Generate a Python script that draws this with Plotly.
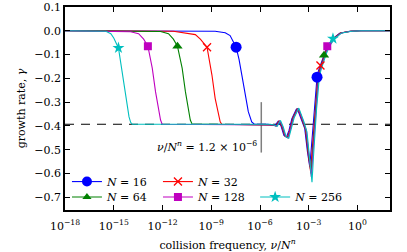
import numpy as np
import plotly.graph_objects as go

# ---------------- data ----------------
# x values are log10(nu / N^n); y values are growth rate gamma
N_VALUES = [16, 32, 64, 128, 256]

logx_16 = [-18, -8.76, -8.14, -7.84, -7.47, -7.29, -7.12, -6.92, -6.72, -6.51, -6.35,
           -5.51, -5.27, -5.08, -4.88, -4.71, -4.53, -4.37, -4.22, -4.04, -3.75, -3.61, -3.45, -3.25, -3.08, -2.94,
           -2.85, -2.76, -2.66, -2.57, -2.49, -2.39, -2.27, -2.08, -1.88, -1.53, -1.10, -0.49, 0.12, 2.0]
gamma_16 = [0.0, -0.002, -0.008, -0.020, -0.069, -0.120, -0.185, -0.256, -0.340, -0.383, -0.393,
            -0.393, -0.396, -0.399, -0.380, -0.400, -0.440, -0.446, -0.420, -0.370, -0.328, -0.345, -0.374, -0.410, -0.508, -0.571,
            -0.500, -0.420, -0.330, -0.260, -0.195, -0.165, -0.140, -0.103, -0.068, -0.034, -0.010, -0.002, 0.0, 0.0]

logx_32 = [-18, -11.33, -9.98, -9.67, -9.26, -9.12, -8.96, -8.76, -8.55, -8.45, -8.35,
           -5.46, -5.22, -5.03, -4.83, -4.66, -4.48, -4.32, -4.17, -3.99, -3.70, -3.56, -3.40, -3.20, -3.03, -2.89,
           -2.80, -2.71, -2.61, -2.52, -2.44, -2.34, -2.22, -2.03, -1.83, -1.48, -1.05, -0.44, 0.17, 2.0]
gamma_32 = [0.0, -0.002, -0.016, -0.035, -0.069, -0.120, -0.185, -0.284, -0.362, -0.383, -0.393,
            -0.393, -0.396, -0.400, -0.378, -0.402, -0.442, -0.448, -0.418, -0.368, -0.327, -0.346, -0.376, -0.415, -0.520, -0.590,
            -0.510, -0.420, -0.330, -0.260, -0.195, -0.165, -0.138, -0.100, -0.066, -0.032, -0.009, -0.002, 0.0, 0.0]

logx_64 = [-18, -14.0, -12.12, -11.63, -11.33, -11.08, -10.94, -10.79, -10.59, -10.39, -10.29, -10.18,
           -5.43, -5.19, -5.00, -4.80, -4.63, -4.45, -4.29, -4.14, -3.96, -3.67, -3.53, -3.37, -3.17, -3.00, -2.86,
           -2.77, -2.68, -2.58, -2.49, -2.41, -2.31, -2.19, -2.00, -1.80, -1.45, -1.02, -0.41, 0.20, 2.0]
gamma_64 = [0.0, -0.001, -0.003, -0.012, -0.035, -0.065, -0.110, -0.157, -0.256, -0.340, -0.375, -0.392,
            -0.393, -0.396, -0.400, -0.379, -0.402, -0.443, -0.449, -0.418, -0.368, -0.327, -0.346, -0.377, -0.417, -0.525, -0.600,
            -0.515, -0.420, -0.330, -0.260, -0.195, -0.165, -0.138, -0.100, -0.066, -0.032, -0.009, -0.002, 0.0, 0.0]

logx_128 = [-18, -16.41, -13.96, -13.47, -13.16, -12.90, -12.77, -12.63, -12.43, -12.23, -12.12, -12.02,
            -5.41, -5.17, -4.98, -4.78, -4.61, -4.43, -4.27, -4.12, -3.94, -3.65, -3.51, -3.35, -3.15, -2.98, -2.84,
            -2.75, -2.66, -2.56, -2.47, -2.39, -2.29, -2.17, -1.98, -1.78, -1.43, -1.00, -0.39, 0.22, 2.0]
gamma_128 = [0.0, -0.001, -0.004, -0.012, -0.035, -0.065, -0.110, -0.157, -0.256, -0.340, -0.375, -0.393,
             -0.393, -0.396, -0.401, -0.378, -0.403, -0.444, -0.450, -0.417, -0.367, -0.326, -0.347, -0.378, -0.420, -0.535, -0.615,
             -0.520, -0.420, -0.330, -0.260, -0.195, -0.165, -0.138, -0.100, -0.066, -0.032, -0.009, -0.002, 0.0, 0.0]

logx_256 = [-18, -15.80, -15.49, -15.18, -15.00, -14.71, -14.60, -14.47, -14.27, -14.06, -13.96, -13.86,
            -5.37, -5.13, -4.94, -4.74, -4.57, -4.39, -4.23, -4.08, -3.90, -3.61, -3.47, -3.31, -3.11, -2.94, -2.80,
            -2.71, -2.62, -2.52, -2.43, -2.35, -2.25, -2.13, -1.94, -1.74, -1.39, -0.96, -0.35, 0.26, 2.0]
gamma_256 = [0.0, 0.0, -0.002, -0.012, -0.030, -0.072, -0.120, -0.185, -0.283, -0.362, -0.385, -0.393,
             -0.393, -0.396, -0.402, -0.377, -0.404, -0.446, -0.452, -0.416, -0.366, -0.325, -0.348, -0.380, -0.425, -0.550, -0.637,
             -0.530, -0.420, -0.330, -0.260, -0.195, -0.165, -0.138, -0.100, -0.066, -0.032, -0.009, -0.002, 0.0, 0.0]

# marker positions (two marked points per curve)
marker_logx_left = [-7.47, -9.26, -11.08, -12.90, -14.71]
marker_gamma_left = [-0.069, -0.069, -0.065, -0.065, -0.072]
marker_logx_right = [-2.49, -2.28, -2.06, -1.86, -1.51]
marker_gamma_right = [-0.195, -0.146, -0.103, -0.065, -0.033]

plateau_gamma = -0.393
nu_threshold = 1.2e-6
threshold_line_gamma = [-0.300, -0.512]
x_range_log = [-18, 2]
y_range = [-0.7535, 0.1]

x_tick_exponents = [-18, -15, -12, -9, -6, -3, 0]
x_tick_labels = ["10<sup>−18</sup>", "10<sup>−15</sup>", "10<sup>−12</sup>", "10<sup>−9</sup>",
                 "10<sup>−6</sup>", "10<sup>−3</sup>", "10<sup>0</sup>"]

# ---------------- styling ----------------
COLORS = ["#0000ff", "#ff0000", "#008000", "#bf00bf", "#00bfbf"]
SYMBOLS = ["circle", "x-thin", "triangle-up", "square", "star"]
SIZES = [11, 8, 9, 8, 9]
LEG_SIZES = [10, 8, 8, 8, 9]
FONT = "DejaVu Serif"
# legend slot per series: (paper x of legend box, paper y of row)
LEG_NAMES = ["legend", "legend2", "legend3", "legend4", "legend5"]
LEG_X = [0.006, 0.286, 0.006, 0.286, 0.585]
LEG_Y = [0.140, 0.140, 0.064, 0.064, 0.064]

curves_logx = [logx_16, logx_32, logx_64, logx_128, logx_256]
curves_gamma = [gamma_16, gamma_32, gamma_64, gamma_128, gamma_256]

fig = go.Figure()

# dashed plateau line
fig.add_trace(go.Scatter(
    x=[10 ** x_range_log[0], 10 ** x_range_log[1]], y=[plateau_gamma, plateau_gamma],
    mode="lines", line=dict(color="black", width=1, dash="9px,7px"),
    showlegend=False, hoverinfo="skip"))

# vertical threshold line
fig.add_trace(go.Scatter(
    x=[nu_threshold, nu_threshold], y=threshold_line_gamma,
    mode="lines", line=dict(color="#7f7f7f", width=1.5),
    showlegend=False, hoverinfo="skip"))

for i, n in enumerate(N_VALUES):
    fig.add_trace(go.Scatter(
        x=[10 ** v for v in curves_logx[i]], y=curves_gamma[i],
        mode="lines", line=dict(color=COLORS[i], width=1.1),
        showlegend=False, hoverinfo="skip"))

for i, n in enumerate(N_VALUES):
    mk = dict(symbol=SYMBOLS[i], size=SIZES[i], color=COLORS[i],
              line=dict(color=COLORS[i], width=1.3 if SYMBOLS[i] == "x-thin" else 0))
    fig.add_trace(go.Scatter(
        x=[10 ** marker_logx_left[i], 10 ** marker_logx_right[i]],
        y=[marker_gamma_left[i], marker_gamma_right[i]],
        mode="markers", marker=mk, showlegend=False, hoverinfo="skip"))

# legend entries, one small legend per entry to reproduce the reference layout
leg_common = dict(orientation="h", xanchor="left", yanchor="middle",
                  bgcolor="rgba(0,0,0,0)", borderwidth=0,
                  font=dict(family=FONT, size=11, color="black"),
                  itemwidth=30, tracegroupgap=0)
legend_layout = {}
for i, n in enumerate(N_VALUES):
    mk = dict(symbol=SYMBOLS[i], size=LEG_SIZES[i], color=COLORS[i],
              line=dict(color=COLORS[i], width=1.3 if SYMBOLS[i] == "x-thin" else 0))
    fig.add_trace(go.Scatter(
        x=[None], y=[None], mode="lines+markers",
        line=dict(color=COLORS[i], width=1.1), marker=mk,
        name=f"<i>N</i> = {n}", legend=LEG_NAMES[i]))
    legend_layout[LEG_NAMES[i]] = dict(x=LEG_X[i], y=LEG_Y[i], **leg_common)

axis_common = dict(
    showline=True, linecolor="black", linewidth=1.6, mirror="ticks",
    ticks="inside", ticklen=5, tickwidth=1, tickcolor="black",
    showgrid=False, zeroline=False, automargin=False,
    tickfont=dict(family=FONT, size=11, color="black"),
)

fig.update_xaxes(
    type="log", range=x_range_log,
    tickvals=[10.0 ** e for e in x_tick_exponents], ticktext=x_tick_labels,
    ticklabelstandoff=5,
    title=dict(text="collision frequency, <i>ν</i>/<i>N</i><sup><i>n</i></sup>",
               font=dict(family=FONT, size=11, color="black"), standoff=12),
    **axis_common)
fig.update_yaxes(
    range=y_range, dtick=0.1, tick0=0, tickformat=".1f",
    title=dict(text="growth rate, <i>γ</i>",
               font=dict(family=FONT, size=11, color="black"), standoff=6),
    **axis_common)

fig.add_annotation(
    x=np.log10(nu_threshold), y=-0.488, xref="x", yref="y",
    text="<i>ν</i>/<i>N</i><sup><i>n</i></sup> = 1.2 × 10<sup>−6</sup>",
    showarrow=False, xanchor="right", yanchor="middle", xshift=-2,
    font=dict(family=FONT, size=11, color="black"))

fig.update_layout(
    width=407, height=252,
    margin=dict(l=65, r=17, t=7, b=42, autoexpand=False),
    paper_bgcolor="white", plot_bgcolor="white",
    font=dict(family=FONT, size=11, color="black"),
    **legend_layout,
)

fig.write_html("out.html", config={"displayModeBar": False},
               post_script="document.body.style.margin='0';document.body.style.overflow='hidden';")
